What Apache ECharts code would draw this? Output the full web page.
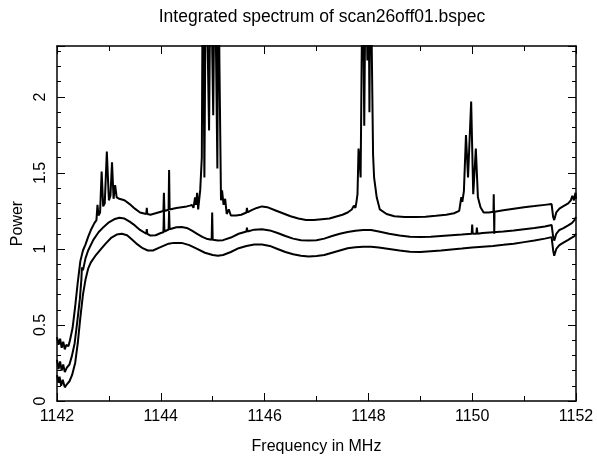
<!DOCTYPE html>
<html>
<head>
<meta charset="utf-8">
<script src="https://cdn.jsdelivr.net/npm/echarts@6/dist/echarts.min.js"></script>
<style>
  html, body { margin: 0; padding: 0; background: #fff; }
  #chart { width: 597px; height: 460px; }
</style>
</head>
<body>
<div id="chart"></div>
<script>
// Integrated spectrum traces: [frequency (MHz), power]
const upperTrace = [
  [1142.00,0.42],[1142.03,0.37],[1142.06,0.41],[1142.09,0.35],[1142.12,0.39],[1142.15,0.34],
  [1142.18,0.37],[1142.22,0.36],[1142.25,0.40],[1142.30,0.48],[1142.35,0.62],[1142.40,0.78],
  [1142.45,0.92],[1142.50,0.99],[1142.55,1.03],[1142.60,1.08],[1142.66,1.13],[1142.72,1.17],
  [1142.76,1.19],[1142.78,1.29],[1142.80,1.22],[1142.83,1.24],[1142.86,1.51],[1142.89,1.28],
  [1142.92,1.30],[1142.96,1.64],[1143.00,1.32],[1143.03,1.35],[1143.06,1.57],[1143.09,1.33],
  [1143.12,1.42],[1143.15,1.34],[1143.20,1.33],[1143.30,1.32],[1143.40,1.295],[1143.50,1.265],
  [1143.60,1.24],[1143.72,1.23],[1143.73,1.27],[1143.74,1.23],[1143.80,1.225],[1143.90,1.235],
  [1144.00,1.245],[1144.05,1.25],[1144.06,1.37],[1144.07,1.25],[1144.15,1.258],[1144.16,1.52],
  [1144.17,1.26],[1144.30,1.27],[1144.40,1.275],[1144.50,1.28],[1144.56,1.285],[1144.60,1.29],
  [1144.63,1.27],[1144.66,1.34],[1144.68,1.29],[1144.70,1.37],[1144.72,1.26],[1144.76,1.39],
  [1144.79,1.60],[1144.81,3.0],[1144.84,1.47],[1144.87,3.0],[1144.90,3.0],[1144.93,1.78],
  [1144.96,3.0],[1144.98,3.0],[1145.01,1.88],[1145.04,3.0],[1145.06,3.0],[1145.09,1.53],
  [1145.11,3.0],[1145.13,2.21],[1145.16,1.32],[1145.18,1.385],[1145.21,1.29],[1145.24,1.33],
  [1145.27,1.23],[1145.31,1.26],[1145.35,1.22],[1145.45,1.22],[1145.55,1.225],[1145.65,1.24],
  [1145.66,1.27],[1145.67,1.24],[1145.75,1.255],[1145.85,1.27],[1145.95,1.28],[1146.05,1.275],
  [1146.20,1.255],[1146.35,1.235],[1146.50,1.215],[1146.65,1.20],[1146.80,1.19],[1146.95,1.19],
  [1147.10,1.195],[1147.25,1.20],[1147.40,1.215],[1147.50,1.225],[1147.60,1.24],[1147.68,1.26],
  [1147.72,1.285],[1147.75,1.27],[1147.77,1.31],[1147.79,1.36],[1147.81,1.66],[1147.83,1.58],
  [1147.85,1.47],[1147.89,3.0],[1147.92,1.81],[1147.95,3.0],[1147.98,2.24],[1148.00,3.0],
  [1148.02,1.90],[1148.04,3.0],[1148.06,3.0],[1148.09,1.62],[1148.11,1.47],[1148.16,1.34],
  [1148.22,1.26],[1148.35,1.23],[1148.50,1.215],[1148.70,1.21],[1148.90,1.21],[1149.10,1.212],
  [1149.30,1.218],[1149.50,1.225],[1149.65,1.235],[1149.75,1.25],[1149.79,1.34],[1149.81,1.31],
  [1149.84,1.38],[1149.88,1.75],[1149.92,1.47],[1149.98,1.97],[1150.02,1.36],[1150.07,1.66],
  [1150.11,1.34],[1150.16,1.275],[1150.22,1.24],[1150.32,1.24],[1150.41,1.245],[1150.415,1.36],
  [1150.425,1.10],[1150.43,1.245],[1150.60,1.255],[1150.80,1.265],[1151.00,1.275],[1151.20,1.282],
  [1151.40,1.29],[1151.53,1.295],[1151.56,1.21],[1151.58,1.19],[1151.62,1.24],[1151.68,1.265],
  [1151.75,1.28],[1151.85,1.30],[1151.90,1.32],[1151.93,1.35],[1151.96,1.32],[1151.99,1.37],
  [1152.00,1.33]
];

const middleTrace = [
  [1142.00,0.27],[1142.03,0.21],[1142.06,0.26],[1142.09,0.20],[1142.12,0.24],[1142.15,0.19],
  [1142.19,0.22],[1142.24,0.24],[1142.29,0.30],[1142.34,0.38],[1142.39,0.52],[1142.44,0.67],
  [1142.47,0.80],[1142.48,0.88],[1142.50,0.86],[1142.55,0.94],[1142.60,0.99],[1142.70,1.06],
  [1142.80,1.11],[1142.90,1.145],[1143.00,1.175],[1143.10,1.195],[1143.20,1.205],[1143.30,1.20],
  [1143.40,1.18],[1143.50,1.155],[1143.60,1.125],[1143.72,1.10],[1143.73,1.13],[1143.74,1.10],
  [1143.80,1.088],[1143.90,1.09],[1144.00,1.105],[1144.05,1.11],[1144.06,1.25],[1144.07,1.115],
  [1144.15,1.128],[1144.16,1.25],[1144.17,1.13],[1144.30,1.143],[1144.40,1.145],[1144.50,1.138],
  [1144.60,1.12],[1144.70,1.10],[1144.80,1.08],[1144.90,1.065],[1144.98,1.06],[1144.99,1.24],
  [1145.00,1.06],[1145.10,1.055],[1145.20,1.058],[1145.35,1.075],[1145.50,1.10],[1145.65,1.115],
  [1145.66,1.14],[1145.67,1.115],[1145.80,1.127],[1145.95,1.13],[1146.10,1.122],[1146.25,1.105],
  [1146.40,1.085],[1146.55,1.068],[1146.70,1.058],[1146.85,1.055],[1147.00,1.058],[1147.15,1.068],
  [1147.30,1.085],[1147.45,1.10],[1147.60,1.112],[1147.75,1.12],[1147.90,1.125],[1148.05,1.125],
  [1148.20,1.115],[1148.40,1.10],[1148.60,1.088],[1148.80,1.08],[1149.00,1.078],[1149.20,1.08],
  [1149.40,1.085],[1149.60,1.09],[1149.80,1.095],[1149.99,1.10],[1150.00,1.16],[1150.01,1.10],
  [1150.08,1.10],[1150.09,1.14],[1150.10,1.10],[1150.20,1.105],[1150.40,1.11],[1150.60,1.115],
  [1150.80,1.122],[1151.00,1.13],[1151.20,1.138],[1151.40,1.148],[1151.53,1.158],[1151.56,1.08],
  [1151.58,1.055],[1151.62,1.10],[1151.68,1.125],[1151.75,1.135],[1151.85,1.155],[1151.92,1.17],
  [1151.97,1.19],[1152.00,1.21]
];

const lowerTrace = [
  [1142.00,0.17],[1142.03,0.12],[1142.05,0.16],[1142.08,0.10],[1142.11,0.14],[1142.15,0.09],
  [1142.19,0.11],[1142.24,0.13],[1142.29,0.17],[1142.35,0.25],[1142.40,0.38],[1142.45,0.55],
  [1142.50,0.70],[1142.55,0.80],[1142.60,0.87],[1142.65,0.91],[1142.75,0.96],[1142.85,1.00],
  [1142.95,1.04],[1143.05,1.075],[1143.15,1.095],[1143.25,1.10],[1143.35,1.09],[1143.45,1.06],
  [1143.55,1.03],[1143.65,1.005],[1143.75,0.99],[1143.85,0.99],[1143.95,1.005],[1144.05,1.02],
  [1144.15,1.035],[1144.25,1.04],[1144.40,1.04],[1144.55,1.025],[1144.70,1.00],[1144.85,0.975],
  [1145.00,0.96],[1145.10,0.955],[1145.20,0.96],[1145.35,0.98],[1145.50,1.005],[1145.65,1.02],
  [1145.80,1.03],[1145.95,1.03],[1146.10,1.02],[1146.25,1.00],[1146.40,0.98],[1146.55,0.965],
  [1146.70,0.955],[1146.85,0.95],[1147.00,0.953],[1147.15,0.96],[1147.30,0.975],[1147.45,0.99],
  [1147.60,1.005],[1147.75,1.012],[1147.90,1.015],[1148.05,1.015],[1148.20,1.01],[1148.40,1.00],
  [1148.60,0.99],[1148.80,0.982],[1149.00,0.98],[1149.20,0.985],[1149.40,0.99],[1149.60,0.997],
  [1149.80,1.003],[1150.00,1.01],[1150.20,1.015],[1150.40,1.02],[1150.60,1.027],[1150.80,1.035],
  [1151.00,1.045],[1151.20,1.055],[1151.40,1.068],[1151.53,1.078],[1151.56,0.99],[1151.58,0.955],
  [1151.62,1.00],[1151.68,1.025],[1151.75,1.04],[1151.85,1.06],[1151.92,1.075],[1151.97,1.085],
  [1152.00,1.10]
];

// Axis ranges and labelled ticks
const freqRange = [1142, 1152];
const freqTickLabels = [1142, 1144, 1146, 1148, 1150, 1152];
const powerRange = [0, 2.335];
const powerTickLabels = [0, 0.5, 1, 1.5, 2];

const FONT = 'Liberation Sans';
const INK = '#000';

const chart = echarts.init(document.getElementById('chart'), null, { renderer: 'canvas' });

function xAxisDef(pos, withLabels) {
  return {
    type: 'value', position: pos, min: freqRange[0], max: freqRange[1], interval: 2,
    axisLine: { show: true, onZero: false, lineStyle: { color: INK, width: 1.5 } },
    axisTick: { show: true, inside: true, length: 8, lineStyle: { color: INK, width: 1 } },
    minorTick: { show: true, splitNumber: 2, length: 5, lineStyle: { color: INK, width: 1 } },
    splitLine: { show: false },
    axisLabel: withLabels ? {
      show: true, color: INK, fontFamily: FONT, fontSize: 16, margin: 8,
      formatter: v => freqTickLabels.includes(v) ? String(v) : ''
    } : { show: false },
    name: withLabels ? 'Frequency in MHz' : '',
    nameLocation: 'middle', nameGap: 38,
    nameTextStyle: { color: INK, fontFamily: FONT, fontSize: 16 }
  };
}

function yAxisDef(pos, step, tickLen, withLine, withLabels) {
  return {
    type: 'value', position: pos, min: powerRange[0], max: powerRange[1], interval: step,
    axisLine: { show: withLine, onZero: false, lineStyle: { color: INK, width: 1.5 } },
    axisTick: { show: true, inside: true, length: tickLen, lineStyle: { color: INK, width: 1 } },
    splitLine: { show: false },
    axisLabel: withLabels ? {
      show: true, color: INK, fontFamily: FONT, fontSize: 16, margin: 8, rotate: 90,
      formatter: v => {
        const hit = powerTickLabels.find(t => Math.abs(t - v) < 1e-6);
        return hit === undefined ? '' : String(hit);
      }
    } : { show: false },
    name: withLabels ? 'Power' : '',
    nameLocation: 'middle', nameRotate: 90, nameGap: 30,
    nameTextStyle: { color: INK, fontFamily: FONT, fontSize: 16 }
  };
}

function traceSeries(data) {
  return {
    type: 'line', data: data, xAxisIndex: 0, yAxisIndex: 0,
    showSymbol: false, symbol: 'none', clip: true, smooth: false,
    lineStyle: { color: '#000', width: 2 },
    emphasis: { disabled: true }
  };
}

chart.setOption({
  animation: false,
  backgroundColor: '#fff',
  title: {
    text: 'Integrated spectrum of scan26off01.bspec',
    left: 317, top: 3, textAlign: 'center',
    textStyle: { color: INK, fontFamily: FONT, fontSize: 17.5, fontWeight: 'normal' }
  },
  grid: { left: 57, right: 21, top: 46, bottom: 53, containLabel: false },
  xAxis: [xAxisDef('bottom', true), xAxisDef('top', false)],
  yAxis: [
    yAxisDef('left', 0.5, 8, true, true),
    yAxisDef('left', 0.1, 4, false, false),
    yAxisDef('right', 0.5, 8, true, false),
    yAxisDef('right', 0.1, 4, false, false)
  ],
  series: [traceSeries(upperTrace), traceSeries(middleTrace), traceSeries(lowerTrace)]
});
</script>
</body>
</html>
